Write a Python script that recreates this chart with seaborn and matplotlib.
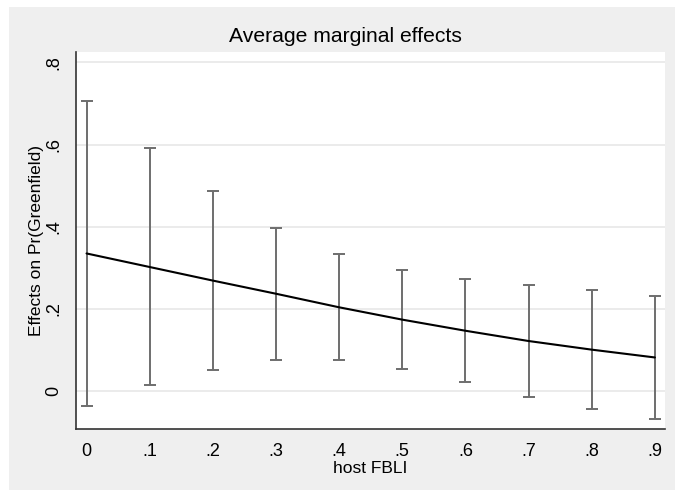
import numpy as np
import pandas as pd
import seaborn as sns
import matplotlib.pyplot as plt
from matplotlib.patches import Rectangle

# values
fbli = [0, 0.1, 0.2, 0.3, 0.4, 0.5, 0.6, 0.7, 0.8, 0.9]
effect = [0.335, 0.302, 0.269, 0.237, 0.204, 0.174, 0.147, 0.122, 0.101, 0.082]
ci_low = [-0.036, 0.015, 0.052, 0.075, 0.075, 0.054, 0.022, -0.014, -0.043, -0.067]
ci_high = [0.706, 0.592, 0.487, 0.398, 0.333, 0.294, 0.272, 0.258, 0.246, 0.231]
x_ticklabels = ["0", ".1", ".2", ".3", ".4", ".5", ".6", ".7", ".8", ".9"]
y_ticks = [0, 0.2, 0.4, 0.6, 0.8]
y_ticklabels = ["0", ".2", ".4", ".6", ".8"]

df = pd.DataFrame({"fbli": fbli, "effect": effect,
                   "lo": ci_low, "hi": ci_high})

sns.set_style("white")
plt.rcParams['font.family'] = ['Liberation Sans', 'DejaVu Sans']
plt.rcParams['text.color'] = 'black'
plt.rcParams['axes.labelcolor'] = 'black'

fig = plt.figure(figsize=(6.75, 4.9), dpi=100, facecolor="white")
# stata style grey graph region, drawn beneath the axes
fig.patches.append(Rectangle((9 / 675, 0), 1, 1 - 7 / 490, transform=fig.transFigure,
                             facecolor="#efefef", edgecolor="none", zorder=-10))
ax = fig.add_axes([76 / 675, 61 / 490, 589 / 675, 377 / 490])
ax.set_facecolor("white")

# confidence intervals
yerr = [df["effect"] - df["lo"], df["hi"] - df["effect"]]
ax.errorbar(df["fbli"], df["effect"], yerr=yerr, fmt="none", ecolor="#6e6e6e",
            elinewidth=1.4, capsize=4.5, capthick=1.4, zorder=2)
sns.lineplot(data=df, x="fbli", y="effect", color="black", linewidth=1.5,
             ax=ax, zorder=3)

ax.set_xlim(-0.0167, 0.916)
ax.set_ylim(-0.092, 0.825)
ax.set_xticks(fbli)
ax.set_xticklabels(x_ticklabels)
ax.set_yticks(y_ticks)
ax.set_yticklabels(y_ticklabels, rotation=90, va="center")
ax.yaxis.grid(True, color="#e6e6e6", linewidth=1.1)
ax.set_axisbelow(True)

for side in ["top", "right"]:
    ax.spines[side].set_visible(False)
for side in ["left", "bottom"]:
    ax.spines[side].set_color("#333333")
    ax.spines[side].set_linewidth(1.2)
ax.tick_params(axis="both", direction="out", length=6, width=1.1,
               color="#333333", labelsize=13, labelcolor="black", pad=4)

ax.set_xlabel("host FBLI", fontsize=12.5, labelpad=1)
ax.set_ylabel("Effects on Pr(Greenfield)", fontsize=12.5, labelpad=1)
fig.text(345 / 675, 1 - 37 / 490, "Average marginal effects",
         ha="center", va="center", fontsize=15.2)

fig.savefig("out.png", dpi=100, facecolor=fig.get_facecolor())
